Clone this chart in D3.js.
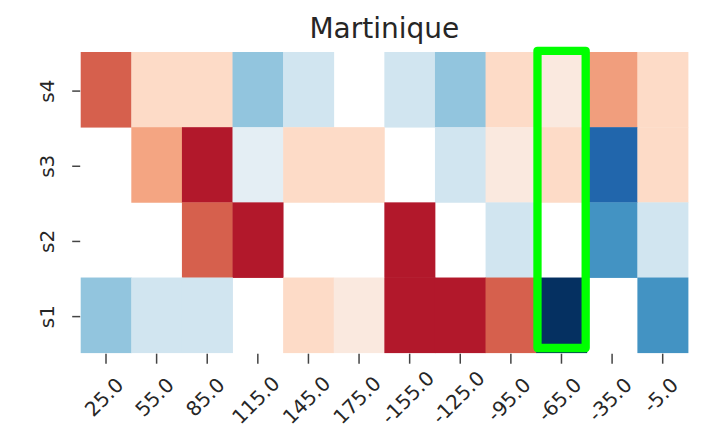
<!DOCTYPE html>
<html>
<head>
<meta charset="utf-8">
<script src="https://cdn.jsdelivr.net/npm/d3@7"></script>
<style>
  html, body { margin: 0; padding: 0; background: #fff; }
  svg { display: block; font-family: "DejaVu Sans", sans-serif; }
</style>
</head>
<body>
<div id="chart"></div>
<script>
(function () {
  'use strict';

  var title = 'Martinique';
  var columns = ['25.0', '55.0', '85.0', '115.0', '145.0', '175.0', '-155.0', '-125.0', '-95.0', '-65.0', '-35.0', '-5.0'];
  var rows = ['s4', 's3', 's2', 's1'];
  var highlight = '-65.0';

  // null = empty cell (drawn as background)
  var s4 = [0.6, 0.2, 0.2, -0.4, -0.2, null, -0.2, -0.4, 0.2, 0.1, 0.42, 0.2];
  var s3 = [null, 0.4, 0.8, -0.1, 0.2, 0.2, null, -0.2, 0.1, 0.2, -0.8, 0.2];
  var s2 = [null, null, 0.6, 0.8, null, null, 0.8, null, -0.2, null, -0.6, -0.2];
  var s1 = [-0.4, -0.2, -0.2, null, 0.2, 0.1, 0.8, 0.8, 0.6, -1.0, null, -0.6];
  var series = { s4: s4, s3: s3, s2: s2, s1: s1 };

  // RdBu_r stops
  var colorStops = ['#053061', '#2166ac', '#4393c3', '#92c5de', '#d1e5f0', '#f7f7f7',
    '#fddbc7', '#f4a582', '#d6604d', '#b2182b', '#67001f'];

  var width = 705;
  var height = 430;
  var margin = { top: 52, right: 17, bottom: 77.3, left: 80.7 };

  var cells = [];
  rows.forEach(function (r) {
    series[r].forEach(function (v, i) {
      if (v !== null) cells.push({ row: r, col: columns[i], value: v });
    });
  });

  var x = d3.scaleBand().domain(columns).range([margin.left, width - margin.right]).padding(0);
  var y = d3.scaleBand().domain(rows).range([margin.top, height - margin.bottom]).padding(0);
  var color = d3.scaleLinear()
    .domain(d3.range(colorStops.length).map(function (i) { return -1 + 2 * i / (colorStops.length - 1); }))
    .range(colorStops);

  var svg = d3.select('#chart').append('svg')
    .attr('width', width)
    .attr('height', height);

  svg.append('g').selectAll('rect').data(cells).join('rect')
    .attr('x', function (d) { return x(d.col); })
    .attr('y', function (d) { return y(d.row); })
    .attr('width', x.bandwidth() + 0.4)
    .attr('height', y.bandwidth() + 0.4)
    .attr('fill', function (d) { return color(d.value); });

  // x axis
  var y1 = height - margin.bottom;
  var xAxis = svg.append('g').attr('fill', '#262626');
  xAxis.selectAll('line').data(columns).join('line')
    .attr('x1', function (d) { return x(d) + x.bandwidth() / 2; })
    .attr('x2', function (d) { return x(d) + x.bandwidth() / 2; })
    .attr('y1', y1 + 1)
    .attr('y2', y1 + 11)
    .attr('stroke', '#444')
    .attr('stroke-width', 1.5);

  var fs = 20;
  xAxis.selectAll('text').data(columns).join('text')
    .attr('font-size', fs)
    .attr('text-anchor', 'middle')
    .attr('dominant-baseline', 'central')
    .text(function (d) { return d; })
    .attr('transform', function (d) {
      var w = this.getComputedTextLength();
      var H = (w + fs * 0.78) / Math.SQRT2;
      var full = (w + fs * 1.17) / Math.SQRT2;
      var cx = x(d) + x.bandwidth() / 2 - 2;
      // long labels are kept inside the page
      var cy = Math.min(y1 + 23 + H / 2, height - 1.5 - full / 2);
      return 'translate(' + cx + ',' + cy + ') rotate(-45)';
    });

  // y axis
  var yAxis = svg.append('g').attr('fill', '#262626');
  yAxis.selectAll('line').data(rows).join('line')
    .attr('x1', margin.left - 8.5)
    .attr('x2', margin.left - 0.5)
    .attr('y1', function (d) { return y(d) + y.bandwidth() / 2 + 1.5; })
    .attr('y2', function (d) { return y(d) + y.bandwidth() / 2 + 1.5; })
    .attr('stroke', '#444')
    .attr('stroke-width', 1.5);
  yAxis.selectAll('text').data(rows).join('text')
    .attr('font-size', fs)
    .attr('text-anchor', 'middle')
    .attr('dominant-baseline', 'central')
    .attr('transform', function (d) {
      return 'translate(' + (margin.left - 34) + ',' + (y(d) + y.bandwidth() / 2 + 1.5) + ') rotate(-90)';
    })
    .text(function (d) { return d; });

  // highlight box
  svg.append('rect')
    .attr('x', x(highlight) + 1.3)
    .attr('y', margin.top - 1.2)
    .attr('width', x.bandwidth() - 2.4)
    .attr('height', y.range()[1] - y.range()[0] - 3.5)
    .attr('fill', 'none')
    .attr('stroke', '#00ff00')
    .attr('stroke-width', 8.3)
    .attr('stroke-linejoin', 'round');

  // title
  svg.append('text')
    .attr('x', (x.range()[0] + x.range()[1]) / 2)
    .attr('y', 38)
    .attr('text-anchor', 'middle')
    .attr('font-size', 28)
    .attr('fill', '#262626')
    .text(title);
})();
</script>
</body>
</html>
